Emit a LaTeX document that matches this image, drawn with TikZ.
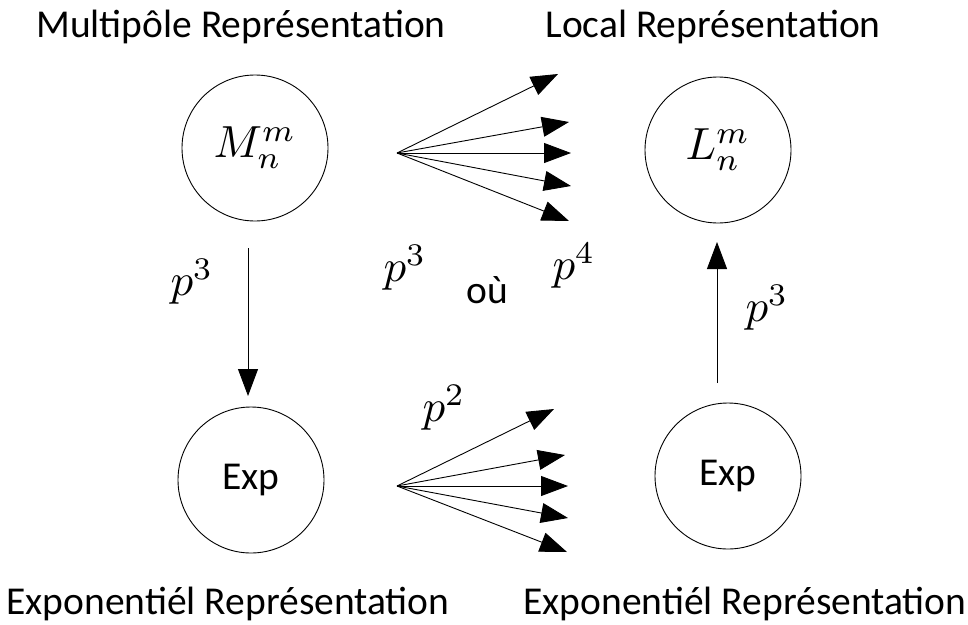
\documentclass[tikz,border=0pt]{standalone}
\usepackage{graphicx}
\usepackage{fontspec}
\setmainfont{Carlito}
\usetikzlibrary{arrows.meta}
\newcommand{\bgmath}[1]{\scalebox{4.5}{$#1$}}
\begin{document}
\begin{tikzpicture}[x=1pt,y=-1pt,
  circ/.style={circle,draw,line width=0.9pt,minimum size=146pt,inner sep=0pt},
  lbl/.style={font=\fontsize{39.5}{46}\selectfont,inner sep=0pt},
  mth/.style={inner sep=0pt},
  arr/.style={line width=0.9pt,-{Triangle[length=27pt,width=20pt]}}]
\useasboundingbox (0,0) rectangle (968,624);
% circles
\node[circ] (M) at (255,148) {\bgmath{M_n^m}};
\node[circ] (L) at (718,150) {\bgmath{L_n^m}};
\node[circ,lbl] (E1) at (251,480) {Exp};
\node[circ,lbl] (E2) at (728,476) {Exp};
% titles
\node[lbl] (t1) at (241,27) {Multipôle Représentation};
\node[lbl] (t2) at (713,27) {Local Représentation};
\node[lbl] (t3) at (228,604) {Exponentiél Représentation};
\node[lbl] (t4) at (745,604) {Exponentiél Représentation};
% vertical arrows
\coordinate (a1) at (248,248);
\coordinate (b1) at (248,396);
\coordinate (a2) at (717,383);
\coordinate (b2) at (717,242);
\draw[arr] (a1) -- (b1);
\draw[arr] (a2) -- (b2);
% top fan
\coordinate (f1) at (397,153);
\coordinate (f1a) at (558,74);
\coordinate (f1b) at (569,122);
\coordinate (f1c) at (571,153);
\coordinate (f1d) at (571,186);
\coordinate (f1e) at (569,221);
\foreach \t in {f1a,f1b,f1c,f1d,f1e} \draw[arr] (f1) -- (\t);
% bottom fan
\coordinate (f2) at (397,486);
\coordinate (f2a) at (554,409);
\coordinate (f2b) at (565,455);
\coordinate (f2c) at (568,486);
\coordinate (f2d) at (568,518);
\coordinate (f2e) at (567,552);
\foreach \t in {f2a,f2b,f2c,f2d,f2e} \draw[arr] (f2) -- (\t);
% labels
\node[mth] (p1) at (192,282) {\bgmath{p^3}};
\node[mth] (p2) at (405,268) {\bgmath{p^3}};
\node[lbl] (ou) at (487,290) {où};
\node[mth] (p3) at (574,266) {\bgmath{p^4}};
\node[mth] (p4) at (444,408) {\bgmath{p^2}};
\node[mth] (p5) at (767,308) {\bgmath{p^3}};
\end{tikzpicture}
\end{document}
